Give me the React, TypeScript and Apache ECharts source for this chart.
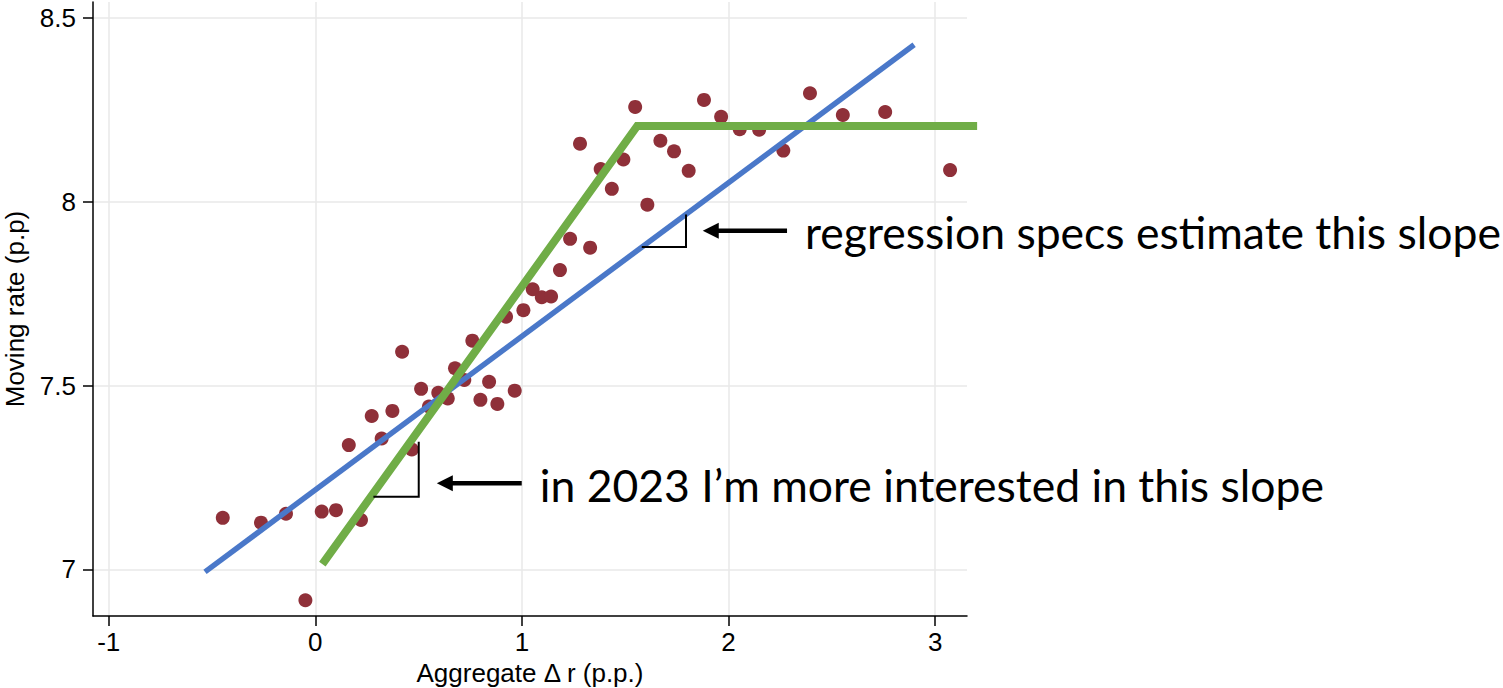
import React, { useEffect, useRef } from 'react';
import * as echarts from 'echarts';

// Axis ticks
const xTicks = [-1, 0, 1, 2, 3];
const yTicks = [7, 7.5, 8, 8.5];

// Binned scatter: aggregate Δr (x) vs moving rate (y)
const pointX = [
  -0.448, -0.263, -0.142, -0.048, 0.031, 0.100, 0.162, 0.221, 0.273, 0.321,
  0.373, 0.420, 0.467, 0.512, 0.550, 0.595, 0.641, 0.676, 0.721, 0.760,
  0.799, 0.841, 0.881, 0.923, 0.965, 1.007, 1.052, 1.096, 1.141, 1.184,
  1.233, 1.281, 1.330, 1.381, 1.435, 1.491, 1.548, 1.607, 1.670, 1.736,
  1.807, 1.881, 1.964, 2.054, 2.148, 2.265, 2.394, 2.553, 2.758, 3.072,
];
const pointY = [
  7.140, 7.127, 7.151, 6.916, 7.157, 7.161, 7.338, 7.134, 7.417, 7.356,
  7.431, 7.592, 7.326, 7.491, 7.443, 7.480, 7.465, 7.547, 7.515, 7.622,
  7.461, 7.510, 7.450, 7.687, 7.486, 7.705, 7.762, 7.740, 7.742, 7.814,
  7.899, 8.158, 7.875, 8.089, 8.035, 8.115, 8.258, 7.992, 8.166, 8.137,
  8.084, 8.277, 8.231, 8.197, 8.196, 8.139, 8.295, 8.236, 8.244, 8.086,
];

// Linear fit (blue)
const linearX = [-0.534, 2.898];
const linearY = [6.993, 8.427];

// Kinked fit (green)
const kinkX = [0.034, 1.558, 3.203];
const kinkY = [7.014, 8.206, 8.206];

// Slope brackets: [x start, x corner], [y base, y top]
const bracketLinearX = [1.58, 1.794, 1.794];
const bracketLinearY = [7.877, 7.877, 7.965];
const bracketKinkX = [0.281, 0.5005, 0.5005];
const bracketKinkY = [7.1975, 7.1975, 7.347];

// Arrows: tip x, tail x, y, label
const arrowTipX = [1.875, 0.588];
const arrowTailX = [2.283, 0.999];
const arrowY = [7.921, 7.234];
const arrowText = [
  'regression specs estimate this slope',
  'in 2023 I\u2019m more interested in this slope',
];

const zip = (xs: number[], ys: number[]) => xs.map((x, i) => [x, ys[i]]);

const axisFont = { fontSize: 26, fontFamily: 'Liberation Sans, Arial, sans-serif', color: '#000' };

export default function App() {
  const ref = useRef<HTMLDivElement>(null);

  useEffect(() => {
    if (!ref.current) return;
    const chart = echarts.init(ref.current, null, { renderer: 'svg' });
    const option: any = {
      animation: false,
      backgroundColor: '#ffffff',
      grid: { left: 93, top: 2, width: 874, height: 614, containLabel: false, outerBoundsMode: 'none' },
      xAxis: {
        type: 'value',
        min: -1.076,
        max: 3.154,
        name: 'Aggregate \u0394 r (p.p.)',
        nameLocation: 'middle',
        nameGap: 41,
        nameTextStyle: axisFont,
        axisLine: { show: true, onZero: false, lineStyle: { color: '#000', width: 1.5 } },
        axisTick: { show: true, inside: false, length: 10, customValues: xTicks, lineStyle: { color: '#000', width: 1.5 } },
        axisLabel: { show: true, customValues: xTicks, margin: 13, ...axisFont, formatter: (v: number) => String(v) },
        splitLine: { show: true, lineStyle: { color: '#e8e8e8', width: 1.5 } },
      },
      yAxis: {
        type: 'value',
        min: 6.873,
        max: 8.5433,
        name: 'Moving rate (p.p)',
        nameLocation: 'middle',
        nameRotate: 90,
        nameGap: 65,
        nameTextStyle: axisFont,
        axisLine: { show: true, onZero: false, lineStyle: { color: '#000', width: 1.5 } },
        axisTick: { show: true, inside: false, length: 10, customValues: yTicks, lineStyle: { color: '#000', width: 1.5 } },
        axisLabel: { show: true, customValues: yTicks, margin: 17, ...axisFont, formatter: (v: number) => String(v) },
        splitLine: { show: true, lineStyle: { color: '#e8e8e8', width: 1.5 } },
      },
      series: [
        {
          type: 'scatter',
          data: zip(pointX, pointY),
          symbolSize: 14,
          itemStyle: { color: '#8f3039', opacity: 1 },
          z: 2,
        },
        {
          type: 'line',
          data: zip(linearX, linearY),
          symbol: 'none',
          lineStyle: { color: '#4a78c9', width: 5.5, cap: 'butt' },
          z: 3,
        },
        {
          // kinked fit, drawn as a custom series so it can run past the plot edge
          type: 'custom',
          clip: false,
          silent: true,
          data: [[kinkX[0], kinkY[0]]],
          renderItem: (_params: any, api: any) => ({
            type: 'polyline',
            shape: { points: kinkX.map((x, i) => api.coord([x, kinkY[i]])) },
            style: { stroke: '#70ad47', lineWidth: 8, fill: null, lineJoin: 'miter', lineCap: 'butt' },
          }),
          z: 4,
        },
        {
          type: 'line',
          data: zip(bracketLinearX, bracketLinearY),
          symbol: 'none',
          lineStyle: { color: '#000', width: 2, join: 'miter' },
          z: 5,
        },
        {
          type: 'line',
          data: zip(bracketKinkX, bracketKinkY),
          symbol: 'none',
          lineStyle: { color: '#000', width: 2, join: 'miter' },
          z: 5,
        },
      ],
    };
    chart.setOption(option);

    const px = (x: number, y: number) => chart.convertToPixel({ gridIndex: 0 }, [x, y]) as number[];
    const headLen = 16;
    const headHalf = 8;
    const graphics: any[] = [];
    arrowText.forEach((text, i) => {
      const [tx, ty] = px(arrowTipX[i], arrowY[i]);
      const [ex] = px(arrowTailX[i], arrowY[i]);
      graphics.push({
        type: 'line',
        shape: { x1: tx + headLen - 1, y1: ty, x2: ex, y2: ty },
        style: { stroke: '#000', lineWidth: 4.5 },
        z: 10,
      });
      graphics.push({
        type: 'polygon',
        shape: { points: [[tx, ty], [tx + headLen, ty - headHalf], [tx + headLen, ty + headHalf]] },
        style: { fill: '#000' },
        z: 10,
      });
      graphics.push({
        type: 'text',
        x: ex + 18,
        y: ty + 1,
        style: {
          text,
          fill: '#000',
          fontSize: 44.5,
          fontFamily: 'Lato, sans-serif',
          align: 'left',
          verticalAlign: 'middle',
          textAlign: 'left',
          textVerticalAlign: 'middle',
        },
        z: 10,
      });
    });
    chart.setOption({ graphic: graphics });

    return () => chart.dispose();
  }, []);

  return (
    <div
      ref={ref}
      style={{ position: 'absolute', left: 0, top: 0, width: '1503px', height: '688px', background: '#fff' }}
    />
  );
}
